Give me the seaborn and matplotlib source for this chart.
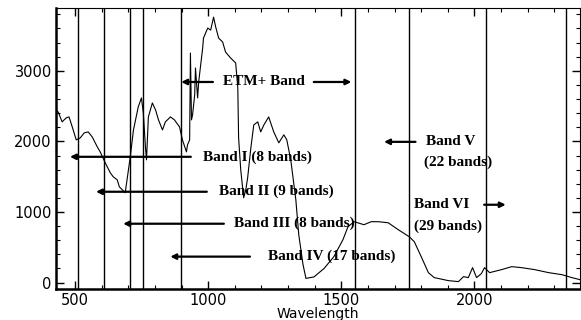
import matplotlib
matplotlib.use("Agg")
import matplotlib.pyplot as plt
import pandas as pd
import seaborn as sns
from matplotlib.ticker import MultipleLocator

# spectrum (wavelength in nm, value)
wavelength = [428, 436, 451, 466, 477, 489, 504, 519, 534, 549, 564, 583, 594, 613,
              632, 643, 658, 666, 688, 707, 719, 737, 749, 756, 764, 768, 775, 790,
              802, 813, 828, 839, 858, 873, 892, 903, 918, 922, 930, 933, 937, 941,
              949, 952, 960, 964, 979, 982, 998, 1009, 1020, 1028, 1039, 1054, 1065,
              1084, 1103, 1111, 1114, 1122, 1133, 1141, 1148, 1160, 1171, 1186, 1197,
              1209, 1227, 1246, 1265, 1284, 1295, 1310, 1329, 1340, 1356, 1367, 1397,
              1435, 1472, 1506, 1525, 1548, 1585, 1612, 1638, 1676, 1714, 1755, 1774,
              1800, 1827, 1849, 1902, 1940, 1959, 1977, 1993, 2008, 2026, 2038, 2057,
              2102, 2140, 2177, 2226, 2279, 2328, 2366, 2396]
radiance = [2446, 2418, 2277, 2333, 2347, 2206, 2022, 2050, 2121, 2135, 2064, 1923, 1852, 1697,
            1555, 1499, 1456, 1357, 1273, 1782, 2163, 2489, 2616, 2404, 1923, 1739, 2347, 2545,
            2446, 2305, 2163, 2277, 2347, 2305, 2206, 2022, 1852, 1951, 2022, 3252, 2305, 2376,
            2658, 3040, 2616, 2842, 3323, 3464, 3606, 3577, 3761, 3620, 3464, 3408, 3266,
            3182, 3111, 2757, 2050, 1598, 1202, 1315, 1485, 1909, 2234, 2277, 2135,
            2234, 2347, 2135, 1980, 2093, 2022, 1739, 1174, 679, 255, 60, 80,
            200, 368, 608, 792, 863, 820, 863, 863, 848, 749, 650, 580,
            368, 141, 71, 28, 14, 85, 71, 212, 71, 127, 212, 141,
            184, 226, 212, 184, 141, 113, 71, 42]

# band boundary lines
band_edges = [509, 607, 707, 754, 896, 1553, 1754, 2045, 2344]

# arrow labels: text, text x, text y, arrow tail x, arrow head x
band_labels = ["Band I (8 bands)", "Band II (9 bands)", "Band III (8 bands)", "Band IV (17 bands)"]
band_text_x = [982, 1039, 1096, 1224]
band_y = [1782, 1287, 834, 368]
band_tail_x = [945, 1005, 1069, 1167]
band_head_x = [470, 568, 670, 847]

df = pd.DataFrame({"Wavelength": wavelength, "Value": radiance})

sns.set_style("ticks")
plt.rcParams["font.family"] = ["DejaVu Sans"]
plt.rcParams["text.color"] = "black"
plt.rcParams["axes.labelcolor"] = "black"
plt.rcParams["axes.edgecolor"] = "black"

fig = plt.figure(figsize=(5.81, 3.20), dpi=100)
ax = fig.add_axes([0.0964, 0.097, 0.9016, 0.878])

sns.lineplot(data=df, x="Wavelength", y="Value", color="black", linewidth=0.8, ax=ax)

for edge in band_edges:
    ax.axvline(edge, color="black", linewidth=1.0)

ax.set_xlim(428, 2396)
ax.set_ylim(-90, 3890)
ax.set_xticks([500, 1000, 1500, 2000])
ax.set_yticks([0, 1000, 2000, 3000])
ax.xaxis.set_minor_locator(MultipleLocator(100))
ax.yaxis.set_minor_locator(MultipleLocator(200))
ax.tick_params(which="both", direction="in", top=True, right=True, labelsize=10.5,
               colors="black", pad=3)
ax.tick_params(which="major", length=6, width=1)
ax.tick_params(which="minor", length=3, width=0.8)
ax.set_xlabel("Wavelength", fontsize=10, labelpad=-1)
ax.set_ylabel("")
for side in ["left", "bottom"]:
    ax.spines[side].set_linewidth(1.8)
for side in ["top", "right"]:
    ax.spines[side].set_linewidth(0.8)

serif = dict(family=["Liberation Serif", "DejaVu Serif"], fontweight="bold", fontsize=11,
             color="black")
arrow = dict(arrowstyle="-|>", color="black", lw=1.6, mutation_scale=8)

for label, tx, y, tail, head in zip(band_labels, band_text_x, band_y, band_tail_x, band_head_x):
    ax.annotate("", xy=(head, y), xytext=(tail, y), arrowprops=arrow)
    ax.text(tx, y, label, ha="left", va="center", **serif)

# ETM+ band, two-sided
ax.annotate("", xy=(888, 2842), xytext=(1028, 2842), arrowprops=arrow)
ax.annotate("", xy=(1548, 2842), xytext=(1386, 2842), arrowprops=arrow)
ax.text(1054, 2842, "ETM+ Band", ha="left", va="center", **serif)

# Band V
ax.annotate("", xy=(1650, 1994), xytext=(1789, 1994), arrowprops=arrow)
ax.text(1819, 1994, "Band V", ha="left", va="center", **serif)
ax.text(1812, 1711, "(22 bands)", ha="left", va="center", **serif)

# Band VI
ax.annotate("", xy=(2128, 1103), xytext=(2026, 1103), arrowprops=arrow)
ax.text(1774, 1103, "Band VI", ha="left", va="center", **serif)
ax.text(1774, 792, "(29 bands)", ha="left", va="center", **serif)

fig.savefig("out.png", dpi=100)
